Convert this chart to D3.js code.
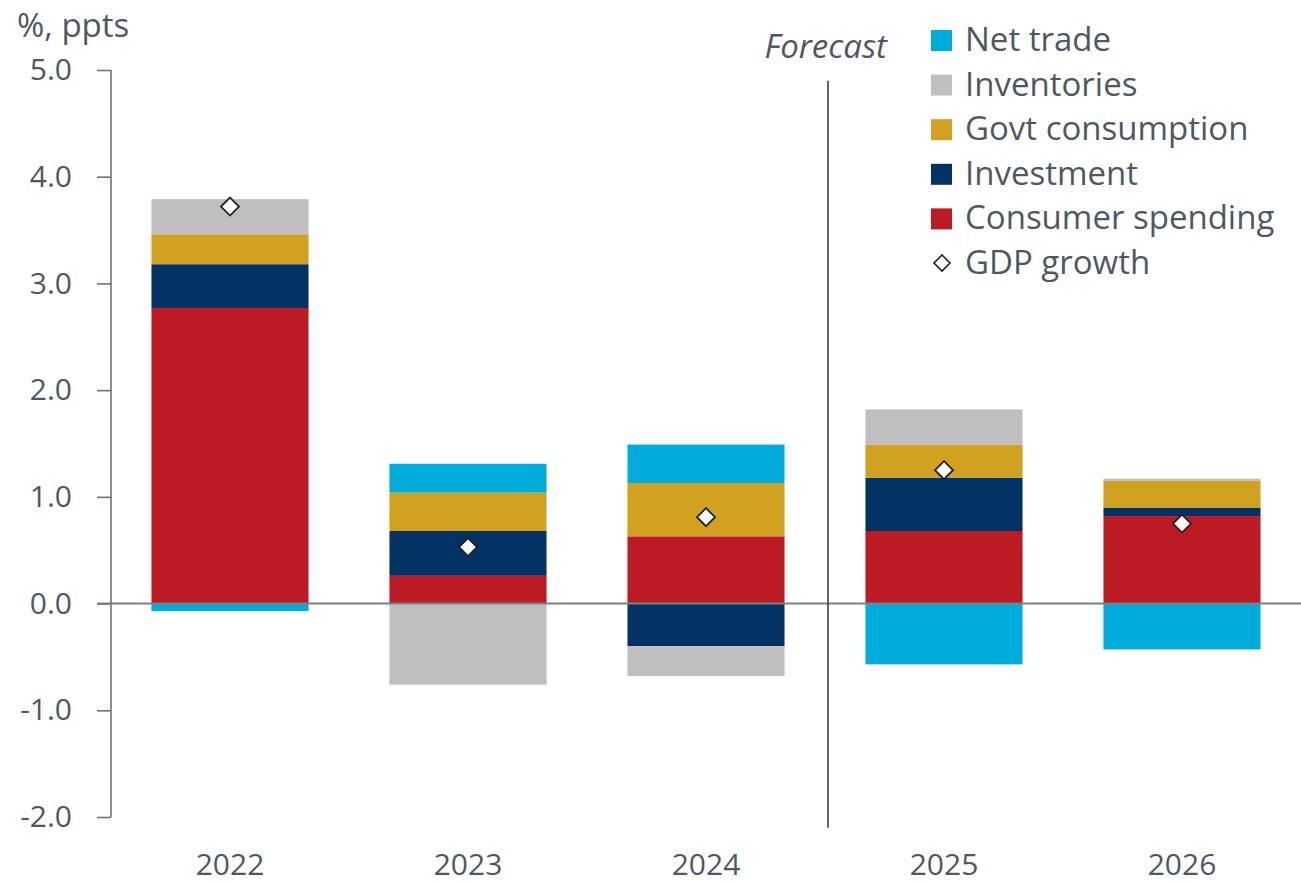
<!DOCTYPE html>
<html>
<head>
<meta charset="utf-8">
<script src="https://cdn.jsdelivr.net/npm/d3@7"></script>
<style>
  html, body { margin: 0; padding: 0; background: #fff; }
  #chart { width: 1301px; height: 884px; }
  text { font-family: "Open Sans", "Noto Sans", sans-serif; fill: #4f5862; }
</style>
</head>
<body>
<div id="chart"></div>
<script>
// values, percentage points
var years = ['2022', '2023', '2024', '2025', '2026'];
var consumerSpending = [2.77, 0.26, 0.63, 0.68, 0.82];
var investment = [0.41, 0.42, -0.40, 0.50, 0.08];
var govtConsumption = [0.28, 0.36, 0.50, 0.31, 0.25];
var inventories = [0.33, -0.76, -0.28, 0.33, 0.02];
var netTrade = [-0.07, 0.27, 0.36, -0.57, -0.43];
var gdpGrowth = [3.72, 0.53, 0.81, 1.25, 0.75];
var yTicks = [-2, -1, 0, 1, 2, 3, 4, 5];
var forecastFrom = '2025';

// stacking order, bottom up
var seriesKeys = ['consumer', 'investment', 'govt', 'inventories', 'netTrade'];
var seriesValues = {
  consumer: consumerSpending,
  investment: investment,
  govt: govtConsumption,
  inventories: inventories,
  netTrade: netTrade
};
var seriesNames = {
  netTrade: 'Net trade',
  inventories: 'Inventories',
  govt: 'Govt consumption',
  investment: 'Investment',
  consumer: 'Consumer spending'
};
var legendOrder = ['netTrade', 'inventories', 'govt', 'investment', 'consumer'];

function StackedChart(params) {

  var attrs = Object.assign({
    container: '#chart',
    width: 1301,
    height: 884,
    colors: {
      netTrade: '#00acdb',
      inventories: '#bfbfbf',
      govt: '#d1a11f',
      investment: '#033264',
      consumer: '#bd1b24'
    },
    margin: { top: 70, right: 0, bottom: 67, left: 111 }
  }, params);

  var viz = { container: d3.select(attrs.container) };

  function main() {
    var chartBottom = attrs.height - attrs.margin.bottom;

    var rows = years.map(function (yr, i) {
      var row = { year: yr, gdp: gdpGrowth[i] };
      seriesKeys.forEach(function (k) { row[k] = seriesValues[k][i]; });
      return row;
    });

    var stacked = d3.stack()
      .keys(seriesKeys)
      .offset(d3.stackOffsetDiverging)(rows);

    var x = d3.scaleBand()
      .domain(years)
      .range([attrs.margin.left, attrs.width - attrs.margin.right])
      .paddingInner(0.34)
      .paddingOuter(0.17);

    var y = d3.scaleLinear()
      .domain([-2, 5])
      .range([chartBottom, attrs.margin.top]);

    viz.svg = viz.container.append('svg')
      .attr('width', attrs.width)
      .attr('height', attrs.height);

    // bars
    viz.svg.append('g').attr('class', 'bars')
      .selectAll('g')
      .data(stacked)
      .join('g')
      .attr('fill', function (d) { return attrs.colors[d.key]; })
      .selectAll('rect')
      .data(function (d) { return d; })
      .join('rect')
      .attr('x', function (d) { return x(d.data.year); })
      .attr('width', x.bandwidth())
      .attr('y', function (d) { return y(Math.max(d[0], d[1])); })
      .attr('height', function (d) { return Math.abs(y(d[0]) - y(d[1])); });

    // y axis (plain hyphen for negatives, like the original)
    var fmt = d3.format('.1f');
    var yAxis = viz.svg.append('g')
      .attr('transform', 'translate(' + attrs.margin.left + ',0)')
      .call(d3.axisLeft(y)
        .tickValues(yTicks)
        .tickFormat(function (d) { return fmt(d).replace('\u2212', '-'); })
        .tickSize(14)
        .tickPadding(25));
    yAxis.select('.domain').attr('stroke', '#6d737a').attr('stroke-width', 1.6)
      .attr('d', 'M0,' + y(5) + 'V' + y(-2));
    yAxis.selectAll('.tick line').attr('stroke', '#6d737a').attr('stroke-width', 1.6);
    yAxis.selectAll('.tick text')
      .attr('font-size', 30)
      .attr('fill', '#4f5862')
      .style('font-family', '"Open Sans", sans-serif');

    // zero line
    viz.svg.append('line')
      .attr('x1', attrs.margin.left - 14)
      .attr('x2', attrs.width)
      .attr('y1', y(0))
      .attr('y2', y(0))
      .attr('stroke', '#7a8086')
      .attr('stroke-width', 2);

    // x labels
    viz.svg.append('g').selectAll('text')
      .data(years)
      .join('text')
      .attr('x', function (d) { return x(d) + x.bandwidth() / 2; })
      .attr('y', 875)
      .attr('text-anchor', 'middle')
      .attr('font-size', 30)
      .text(function (d) { return d; });

    // forecast divider
    var fx = x(forecastFrom) - x.step() * x.paddingInner() / 2 + 3;
    viz.svg.append('line')
      .attr('x1', fx).attr('x2', fx)
      .attr('y1', y(4.9)).attr('y2', y(-2.1))
      .attr('stroke', '#3a3f44')
      .attr('stroke-width', 1.6);
    viz.svg.append('text')
      .attr('x', 887)
      .attr('y', 58)
      .attr('text-anchor', 'end')
      .attr('font-size', 33)
      .attr('font-style', 'italic')
      .text('Forecast');

    // gdp diamonds
    var diamond = 'M0,-9L9,0L0,9L-9,0Z';
    viz.svg.append('g').selectAll('path')
      .data(rows)
      .join('path')
      .attr('d', diamond)
      .attr('transform', function (d) {
        return 'translate(' + (x(d.year) + x.bandwidth() / 2) + ',' + y(d.gdp) + ')';
      })
      .attr('fill', '#fff')
      .attr('stroke', '#1e2226')
      .attr('stroke-width', 1.8);

    // title
    viz.svg.append('text')
      .attr('x', 17)
      .attr('y', 37)
      .attr('font-size', 33)
      .text('%, ppts');

    // legend
    var legend = viz.svg.append('g')
      .attr('transform', 'translate(931,40)');
    var rowGap = 44.6;

    var items = legend.selectAll('g')
      .data(legendOrder)
      .join('g')
      .attr('transform', function (d, i) { return 'translate(0,' + i * rowGap + ')'; });
    items.append('rect')
      .attr('x', 0).attr('y', -10)
      .attr('width', 21).attr('height', 21)
      .attr('fill', function (d) { return attrs.colors[d]; });
    items.append('text')
      .attr('x', 34)
      .attr('y', 11)
      .attr('font-size', 33)
      .text(function (d) { return seriesNames[d]; });

    var gdpItem = legend.append('g')
      .attr('transform', 'translate(0,' + legendOrder.length * rowGap + ')');
    gdpItem.append('path')
      .attr('d', 'M0,-8L8,0L0,8L-8,0Z')
      .attr('transform', 'translate(11,0)')
      .attr('fill', '#fff')
      .attr('stroke', '#1e2226')
      .attr('stroke-width', 1.6);
    gdpItem.append('text')
      .attr('x', 34)
      .attr('y', 11)
      .attr('font-size', 33)
      .text('GDP growth');
  }

  main.render = function () {
    main();
    return main;
  };

  return main;
}

StackedChart().render();
</script>
</body>
</html>
